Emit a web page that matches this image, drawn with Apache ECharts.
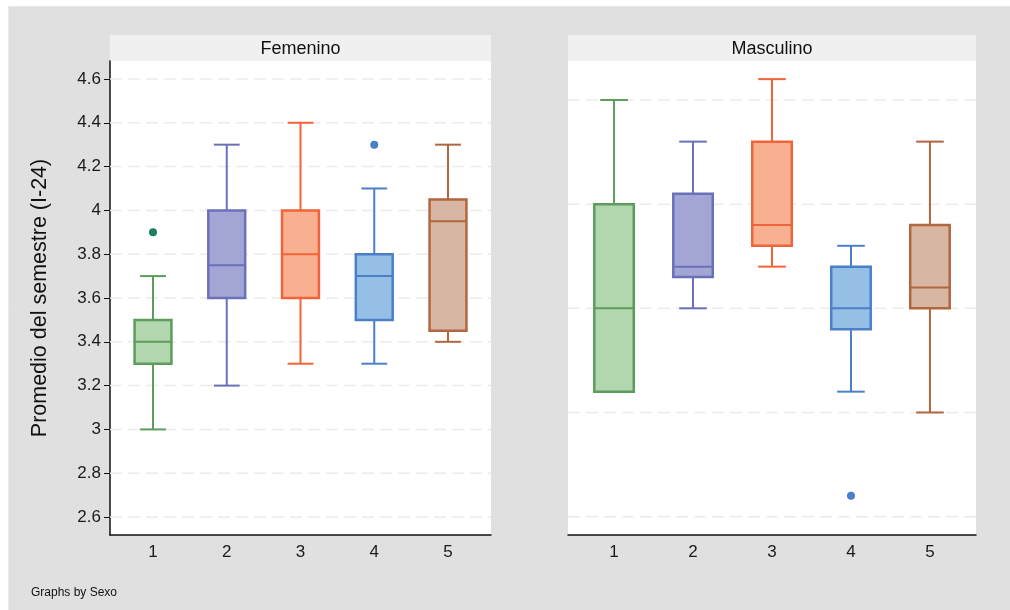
<!DOCTYPE html>
<html>
<head>
<meta charset="utf-8">
<script src="https://cdn.jsdelivr.net/npm/echarts@6/dist/echarts.min.js"></script>
<style>
html,body{margin:0;padding:0;background:#ffffff;}
#chart{width:1010px;height:610px;}
</style>
</head>
<body>
<div id="chart"></div>
<script>
// ---- data ----
const categories = [1, 2, 3, 4, 5];
const panelTitles = ['Femenino', 'Masculino'];
// [min whisker, q1, median, q3, max whisker]
const femBoxes = [
  [3.0, 3.3, 3.4, 3.5, 3.7],
  [3.2, 3.6, 3.75, 4.0, 4.3],
  [3.3, 3.6, 3.8, 4.0, 4.4],
  [3.3, 3.5, 3.7, 3.8, 4.1],
  [3.4, 3.45, 3.95, 4.05, 4.3]
];
const femOutliers = [[1, 3.9], [4, 4.3]];
const masBoxes = [
  [3.1, 3.1, 3.5, 4.0, 4.5],
  [3.5, 3.65, 3.7, 4.05, 4.3],
  [3.7, 3.8, 3.9, 4.3, 4.6],
  [3.1, 3.4, 3.5, 3.7, 3.8],
  [3.0, 3.5, 3.6, 3.9, 4.3]
];
const masOutliers = [[4, 2.6]];
const femTicks = [2.6, 2.8, 3.0, 3.2, 3.4, 3.6, 3.8, 4.0, 4.2, 4.4, 4.6];
const masGrid = [2.5, 3.0, 3.5, 4.0, 4.5];
const yTitle = 'Promedio del semestre (I-24)';
const note = 'Graphs by Sexo';

const strokeColors = ['#5c9c5c', '#6b71b9', '#f2633a', '#4b80c9', '#b1663d'];
const fillColors = ['#b2d6ad', '#a3a5d4', '#f8b190', '#96bfe6', '#d8b6a4'];
const outlierColors = {1: '#1b7e5c', 4: '#4a7fc9'};

const FONT = '"Liberation Sans", Arial, Helvetica, sans-serif';
const X_MIN = 0.417, X_MAX = 5.583;

function boxData(boxes) {
  return boxes.map((b, i) => [categories[i]].concat(b));
}

function renderBox(params, api) {
  const i = params.dataIndex;
  const x = api.value(0);
  const lo = api.coord([x, api.value(1)]);
  const q1 = api.coord([x, api.value(2)]);
  const md = api.coord([x, api.value(3)]);
  const q3 = api.coord([x, api.value(4)]);
  const hi = api.coord([x, api.value(5)]);
  const hw = api.size([0.5, 0])[0] / 2;
  const cw = api.size([0.35, 0])[0] / 2;
  const sc = strokeColors[i];
  const lw = 2;
  const children = [];
  children.push({type: 'line', shape: {x1: q3[0], y1: q3[1], x2: hi[0], y2: hi[1]}, style: {stroke: sc, lineWidth: lw}});
  children.push({type: 'line', shape: {x1: q1[0], y1: q1[1], x2: lo[0], y2: lo[1]}, style: {stroke: sc, lineWidth: lw}});
  children.push({type: 'line', shape: {x1: hi[0] - cw, y1: hi[1], x2: hi[0] + cw, y2: hi[1]}, style: {stroke: sc, lineWidth: lw}});
  children.push({type: 'line', shape: {x1: lo[0] - cw, y1: lo[1], x2: lo[0] + cw, y2: lo[1]}, style: {stroke: sc, lineWidth: lw}});
  children.push({type: 'rect', shape: {x: q3[0] - hw, y: q3[1], width: hw * 2, height: q1[1] - q3[1]},
    style: {fill: fillColors[i], stroke: sc, lineWidth: 2.5}});
  children.push({type: 'line', shape: {x1: md[0] - hw, y1: md[1], x2: md[0] + hw, y2: md[1]}, style: {stroke: sc, lineWidth: 2}});
  return {type: 'group', children: children};
}

function renderGridLine(params, api) {
  const y = api.value(0);
  const a = api.coord([X_MIN, y]);
  const b = api.coord([X_MAX, y]);
  return {type: 'line', shape: {x1: a[0], y1: a[1], x2: b[0], y2: b[1]},
    style: {stroke: '#ebebeb', lineWidth: 1.5, lineDash: [12, 6]}};
}

const chart = echarts.init(document.getElementById('chart'), null, {renderer: 'canvas'});

const gridL = {left: 110, top: 61, width: 381, height: 474};
const gridR = {left: 568, top: 61, width: 408, height: 474};

const xAxisBase = {
  type: 'value', min: X_MIN, max: X_MAX,
  axisLine: {show: true, onZero: false, lineStyle: {color: '#111', width: 1.5}},
  axisTick: {show: false},
  splitLine: {show: false},
  axisLabel: {customValues: categories, color: '#1a1a1a', fontSize: 17, fontFamily: FONT, margin: 9}
};

const option = {
  backgroundColor: '#ffffff',
  animation: false,
  graphic: [
    {type: 'rect', z: -10, shape: {x: 8.5, y: 6.5, width: 1010, height: 610}, style: {fill: '#e0e0e0', stroke: '#e8e8e8', lineWidth: 1}},
    {type: 'rect', z: -5, shape: {x: gridL.left, y: 35, width: gridL.width, height: 26}, style: {fill: '#f0f0f0'}},
    {type: 'rect', z: -5, shape: {x: gridR.left, y: 35, width: gridR.width, height: 26}, style: {fill: '#f0f0f0'}},
    {type: 'text', z: 10, x: gridL.left + gridL.width / 2, y: 49, style: {text: panelTitles[0], fill: '#111', font: '18px ' + FONT, textAlign: 'center', textVerticalAlign: 'middle'}},
    {type: 'text', z: 10, x: gridR.left + gridR.width / 2, y: 49, style: {text: panelTitles[1], fill: '#111', font: '18px ' + FONT, textAlign: 'center', textVerticalAlign: 'middle'}},
    {type: 'text', z: 10, x: 31, y: 593, style: {text: note, fill: '#111', font: '12px ' + FONT, textAlign: 'left', textVerticalAlign: 'middle'}}
  ],
  grid: [
    Object.assign({show: true, backgroundColor: '#ffffff', borderWidth: 0}, gridL),
    Object.assign({show: true, backgroundColor: '#ffffff', borderWidth: 0}, gridR)
  ],
  xAxis: [
    Object.assign({gridIndex: 0}, xAxisBase),
    Object.assign({gridIndex: 1}, xAxisBase)
  ],
  yAxis: [
    {
      gridIndex: 0, type: 'value', min: 2.518, max: 4.682,
      name: yTitle, nameLocation: 'middle', nameGap: 59,
      nameTextStyle: {fontSize: 21.5, fontFamily: FONT, color: '#111'},
      axisLine: {show: true, lineStyle: {color: '#111', width: 1.5}},
      axisTick: {show: true, customValues: femTicks, length: 6, lineStyle: {color: '#111', width: 1}},
      axisLabel: {customValues: femTicks, color: '#1a1a1a', fontSize: 17, fontFamily: FONT, margin: 9,
        formatter: v => String(Math.round(v * 10) / 10)},
      splitLine: {show: false}
    },
    {
      gridIndex: 1, type: 'value', min: 2.412, max: 4.687,
      axisLine: {show: false}, axisTick: {show: false}, axisLabel: {show: false}, splitLine: {show: false}
    }
  ],
  series: [
    {type: 'custom', name: 'gridF', xAxisIndex: 0, yAxisIndex: 0, z: 1, silent: true,
      renderItem: renderGridLine, data: femTicks.map(v => [v]), encode: {y: 0}},
    {type: 'custom', name: 'gridM', xAxisIndex: 1, yAxisIndex: 1, z: 1, silent: true,
      renderItem: renderGridLine, data: masGrid.map(v => [v]), encode: {y: 0}},
    {type: 'custom', name: 'Femenino', xAxisIndex: 0, yAxisIndex: 0, z: 3,
      renderItem: renderBox, data: boxData(femBoxes), encode: {x: 0, y: [1, 2, 3, 4, 5]}},
    {type: 'custom', name: 'Masculino', xAxisIndex: 1, yAxisIndex: 1, z: 3,
      renderItem: renderBox, data: boxData(masBoxes), encode: {x: 0, y: [1, 2, 3, 4, 5]}},
    {type: 'scatter', xAxisIndex: 0, yAxisIndex: 0, z: 4, symbolSize: 8,
      data: femOutliers.map(p => ({value: p, itemStyle: {color: outlierColors[p[0]], opacity: 1}}))},
    {type: 'scatter', xAxisIndex: 1, yAxisIndex: 1, z: 4, symbolSize: 8,
      data: masOutliers.map(p => ({value: p, itemStyle: {color: outlierColors[p[0]], opacity: 1}}))}
  ]
};
chart.setOption(option);
</script>
</body>
</html>
